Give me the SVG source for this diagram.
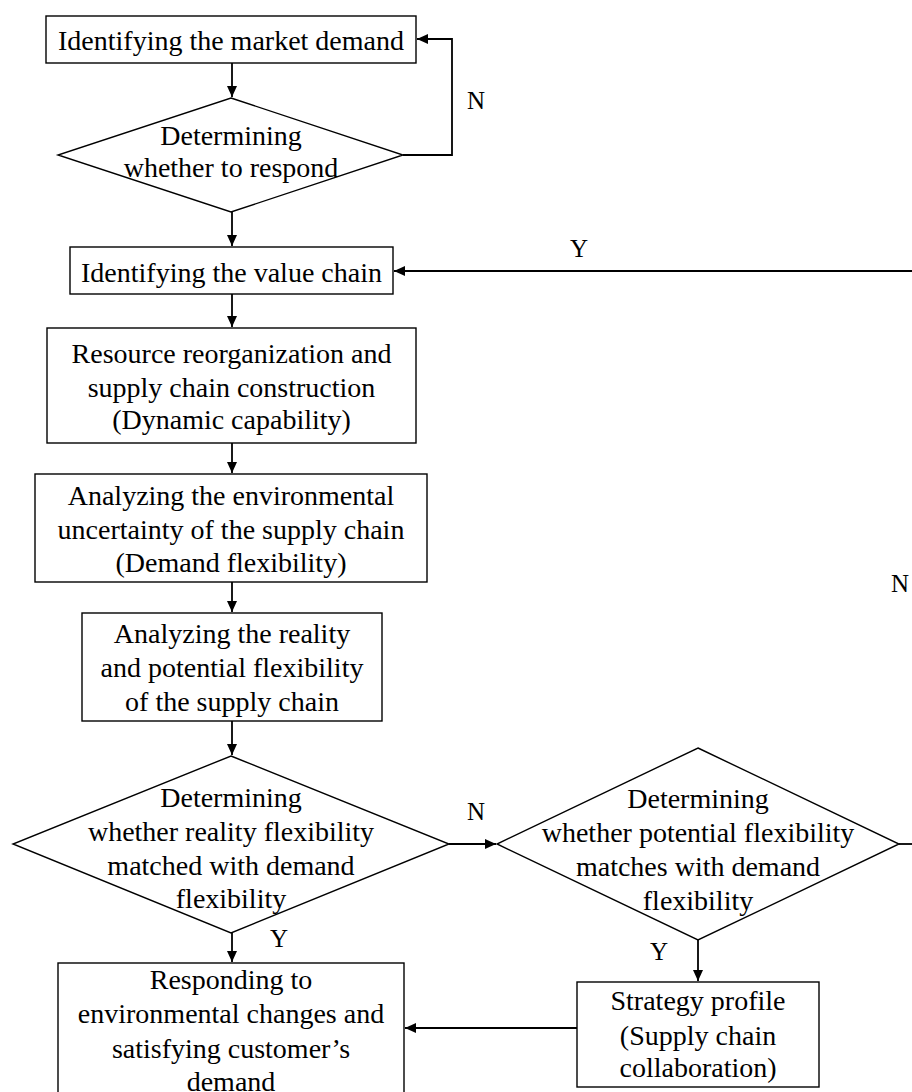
<svg xmlns="http://www.w3.org/2000/svg" width="912" height="1092" viewBox="0 0 912 1092">
<style>
.box{fill:#fff;stroke:#000;stroke-width:1.4}
text{font-family:'Liberation Serif','DejaVu Serif',serif;fill:#000}
.t{font-size:28px;text-anchor:middle}
.lbl{font-size:25px}
.c{fill:none;stroke:#000;stroke-width:1.8}
</style>
<defs>
<marker id="ah" markerUnits="userSpaceOnUse" markerWidth="12" markerHeight="10" refX="11" refY="5" orient="auto">
<path d="M0,0 L11,5 L0,10 Z" fill="#000"/>
</marker>
</defs>
<rect width="912" height="1092" fill="#fff"/>
<g id="connectors">
<path class="c" d="M232,63 V97" marker-end="url(#ah)"/>
<path class="c" d="M403,155 H452 V39 H417" marker-end="url(#ah)"/>
<path class="c" d="M232,212 V246" marker-end="url(#ah)"/>
<path class="c" d="M915,271 H394" marker-end="url(#ah)"/>
<path class="c" d="M232,294 V327" marker-end="url(#ah)"/>
<path class="c" d="M232,443 V473" marker-end="url(#ah)"/>
<path class="c" d="M232,582 V612" marker-end="url(#ah)"/>
<path class="c" d="M232,721 V755" marker-end="url(#ah)"/>
<path class="c" d="M449,844 H496" marker-end="url(#ah)"/>
<path class="c" d="M232,933 V962" marker-end="url(#ah)"/>
<path class="c" d="M899,844 H915"/>
<path class="c" d="M698,940 V981" marker-end="url(#ah)"/>
<path class="c" d="M577,1028 H405" marker-end="url(#ah)"/>
<text class="lbl" x="467" y="109" font-family="Liberation Serif">N</text>
<text class="lbl" x="570" y="257" font-family="Liberation Serif">Y</text>
<text class="lbl" x="891" y="592" font-family="Liberation Serif">N</text>
<text class="lbl" x="467" y="820" font-family="Liberation Serif">N</text>
<text class="lbl" x="270" y="947" font-family="Liberation Serif">Y</text>
<text class="lbl" x="650" y="960" font-family="Liberation Serif">Y</text>
</g>
<g id="n1">
<rect class="box" x="46" y="16" width="370" height="47"/>
<text class="t" x="231" y="50">Identifying the market demand</text>
</g>
<g id="d1">
<polygon class="box" points="231,98 403,155 231,212 58,155"/>
<text class="t" x="231" y="145">Determining</text>
<text class="t" x="231" y="177">whether to respond</text>
</g>
<g id="n2">
<rect class="box" x="70" y="247" width="323" height="47"/>
<text class="t" x="231.5" y="282">Identifying the value chain</text>
</g>
<g id="n3">
<rect class="box" x="47" y="328" width="369" height="115"/>
<text class="t" x="231.5" y="363">Resource reorganization and</text>
<text class="t" x="231.5" y="397">supply chain construction</text>
<text class="t" x="231.5" y="429">(Dynamic capability)</text>
</g>
<g id="n4">
<rect class="box" x="35" y="474" width="392" height="108"/>
<text class="t" x="231" y="505">Analyzing the environmental</text>
<text class="t" x="231" y="539">uncertainty of the supply chain</text>
<text class="t" x="231" y="572">(Demand flexibility)</text>
</g>
<g id="n5">
<rect class="box" x="82" y="613" width="300" height="108"/>
<text class="t" x="232" y="643">Analyzing the reality</text>
<text class="t" x="232" y="677">and potential flexibility</text>
<text class="t" x="232" y="711">of the supply chain</text>
</g>
<g id="d2">
<polygon class="box" points="231,756 449,844 231,933 13,844"/>
<text class="t" x="231" y="807">Determining</text>
<text class="t" x="231" y="841">whether reality flexibility</text>
<text class="t" x="231" y="875">matched with demand</text>
<text class="t" x="231" y="908">flexibility</text>
</g>
<g id="d3">
<polygon class="box" points="698,748 899,844 698,940 497,844"/>
<text class="t" x="698" y="808">Determining</text>
<text class="t" x="698" y="842">whether potential flexibility</text>
<text class="t" x="698" y="876">matches with demand</text>
<text class="t" x="698" y="910">flexibility</text>
</g>
<g id="n6">
<rect class="box" x="58" y="963" width="346" height="140"/>
<text class="t" x="231" y="989">Responding to</text>
<text class="t" x="231" y="1023">environmental changes and</text>
<text class="t" x="231" y="1058">satisfying customer’s</text>
<text class="t" x="231" y="1091">demand</text>
</g>
<g id="n7">
<rect class="box" x="577" y="982" width="242" height="105"/>
<text class="t" x="698" y="1010">Strategy profile</text>
<text class="t" x="698" y="1045">(Supply chain</text>
<text class="t" x="698" y="1077">collaboration)</text>
</g>
</svg>
